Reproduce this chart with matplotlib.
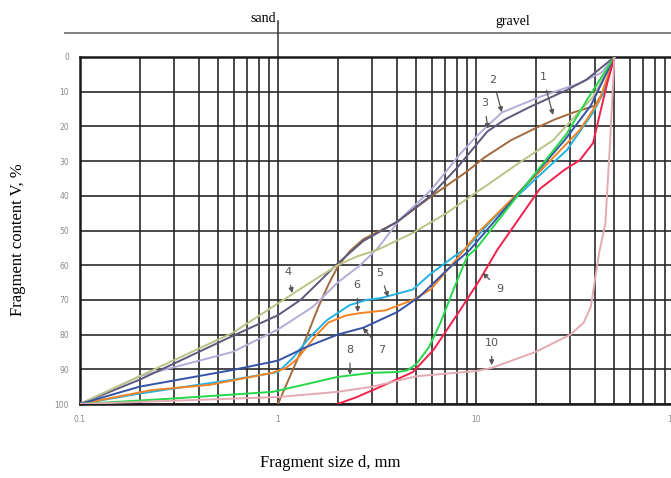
import matplotlib
matplotlib.use("Agg")
import matplotlib.pyplot as plt
from matplotlib.ticker import LogLocator, FixedLocator, NullFormatter

# grain size curves, d in mm, V in %
d1 = [1, 1.3, 1.6, 1.8, 2, 2.3, 2.7, 3.3, 4, 6, 9, 11, 15, 20, 25, 31, 40, 45, 50]
v1 = [100, 85, 72, 65.5, 60.5, 56, 52.5, 50, 47.5, 40, 33, 29, 24, 20.5, 18, 16, 14, 9, 0]

d2 = [0.1, 0.2, 0.59, 1, 1.5, 2, 2.6, 3.2, 4.1, 6, 8.3, 10, 13.5, 21, 33.5, 43, 50]
v2 = [100, 92, 85, 78.5, 72, 65, 60, 55, 47, 38, 28, 23, 16, 11.5, 7.5, 4.5, 0]

d3 = [0.1, 0.2, 0.59, 1, 1.3, 1.6, 2, 2.7, 4, 5.9, 8, 11.4, 14, 18.7, 28.8, 36, 50]
v3 = [100, 93, 80.4, 74.4, 70, 65, 59.5, 53, 47.5, 40, 32, 21.5, 18, 14.4, 9.5, 6.6, 0]

d4 = [0.1, 0.2, 0.59, 1, 1.5, 2, 2.5, 3.2, 4.8, 7.1, 9.3, 11.8, 17, 24.5, 39, 50]
v4 = [100, 92, 79.5, 71, 64.5, 60, 57.5, 55.5, 50.7, 45, 40.3, 36.3, 30, 24, 11.5, 0]

d5 = [0.1, 0.2, 0.59, 1, 1.19, 1.45, 1.77, 2.3, 2.8, 3.3, 4.8, 5.9, 7.7, 9, 12, 17.3, 28.8, 39, 44, 50]
v5 = [100, 97, 93, 90.8, 86.7, 80.7, 75.8, 71.5, 70, 69.5, 67, 62.5, 57.6, 55, 47, 38.5, 26.8, 16, 10.4, 0]

d6 = [0.1, 0.23, 0.45, 0.94, 1.1, 1.25, 1.57, 1.8, 2.2, 2.6, 3.5, 4.8, 5.9, 7.4, 10.5, 21, 33.5, 42, 50]
v6 = [100, 96, 94.5, 91, 89.6, 87, 80, 76.5, 74.5, 73.8, 73, 70, 67, 60.5, 50, 33, 21, 12.4, 0]

d7 = [0.1, 0.2, 0.59, 1, 1.4, 2, 2.7, 4, 5.2, 7.1, 9.3, 16, 28, 38, 50]
v7 = [100, 95, 90.2, 87.5, 83.5, 80, 78, 73.5, 69, 61.5, 55.6, 40, 24, 14, 0]

d8 = [0.1, 0.28, 0.94, 2, 3, 4, 4.5, 5, 5.8, 6.6, 7.7, 9, 10.1, 16.7, 28.8, 36.3, 50]
v8 = [100, 98.5, 96.5, 92.2, 91, 90.8, 90.3, 88.5, 83.5, 76.7, 67, 57.6, 55, 39, 22, 12.4, 0]

d9 = [2, 2.5, 3.3, 4.8, 6.1, 8.3, 10.5, 12.8, 21, 28, 33.5, 39, 42, 46, 50]
v9 = [100, 98, 95, 90.8, 84.4, 73, 64, 55.6, 38, 32.5, 29.7, 24.8, 17, 7.5, 0]

d10 = [0.1, 1, 2, 3, 5, 10, 12, 20, 30, 35, 38, 42, 45, 47.5, 50]
v10 = [100, 98, 96.5, 95, 92, 90.5, 89.6, 85, 80, 76.5, 72, 56, 48, 25, 0]

curves = [(d1, v1, "#a36a3e"), (d2, v2, "#b3acd9"), (d3, v3, "#5c5a7c"),
          (d4, v4, "#bcc386"), (d5, v5, "#22b2e6"), (d6, v6, "#f28424"),
          (d7, v7, "#3654a6"), (d8, v8, "#26d84a"), (d9, v9, "#f2204a"),
          (d10, v10, "#e4aab4")]

# curve labels: text position, arrow tip
labels = ["1", "2", "3", "4", "5", "6", "7", "8", "9", "10"]
label_xy = [(21.8, 5.8), (12.2, 6.6), (11.0, 13.3), (1.12, 62), (3.27, 62.2),
            (2.5, 65.7), (3.35, 84.4), (2.31, 84.4), (13.2, 67), (12.0, 82.4)]
tip_xy = [(24.5, 16.7), (13.5, 15.9), (11.5, 20.7), (1.18, 68), (3.6, 69.2),
          (2.53, 73.5), (2.68, 78), (2.31, 91.6), (10.8, 62.2), (12.0, 88.8)]

xticks = [0.1, 1, 10, 100]
xtick_labels = ["0.1", "1", "10", "100"]
yticks = [0, 10, 20, 30, 40, 50, 60, 70, 80, 90, 100]

fig = plt.figure(figsize=(6.71, 4.78), dpi=100)
ax = fig.add_axes([80 / 671, 74 / 478, 594 / 671, 347 / 478])

for d, v, c in curves:
    ax.plot(d, v, color=c, lw=1.4, zorder=3)

ax.set_xscale("log")
ax.set_xlim(0.1, 100)
ax.set_ylim(100, 0)
ax.xaxis.set_major_locator(FixedLocator(xticks))
ax.set_xticklabels(xtick_labels)
ax.xaxis.set_minor_locator(LogLocator(base=10, subs=range(2, 10)))
ax.xaxis.set_minor_formatter(NullFormatter())
ax.set_yticks(yticks)
ax.set_yticklabels([str(t) for t in yticks])
ax.tick_params(which="both", length=0, labelsize=5.5, labelcolor="#8a8a8a", pad=8)
ax.grid(which="both", axis="x", color="#2a2a2a", lw=1.2, zorder=1)
ax.grid(which="major", axis="y", color="#2a2a2a", lw=1.2, zorder=1)
for s in ax.spines.values():
    s.set_linewidth(1.8)
    s.set_color("#1a1a1a")

for lab, (tx, ty), (px, py) in zip(labels, label_xy, tip_xy):
    ax.annotate(lab, xy=(px, py), xytext=(tx, ty), fontsize=8, color="#555555",
                ha="center", va="center", zorder=4,
                arrowprops=dict(arrowstyle="-|>", color="#555555", lw=0.9,
                                mutation_scale=7, shrinkA=4, shrinkB=0))

# sand / gravel header
ax.plot([0.084, 100], [-6.9, -6.9], color="#777777", lw=1.3, clip_on=False)
ax.plot([1, 1], [-10.5, 0], color="#333333", lw=1.1, clip_on=False)
ax.text(0.84, -11.0, "sand", fontsize=10, ha="center", va="center",
        family="Liberation Serif")
ax.text(15.4, -10.3, "gravel", fontsize=10, ha="center", va="center",
        family="Liberation Serif")

fig.text(18 / 671, 1 - 240 / 478, "Fragment content V, %", rotation=90,
         ha="center", va="center", fontsize=12, family="Liberation Serif")
fig.text(330 / 671, 1 - 463 / 478, "Fragment size d, mm", ha="center",
         va="center", fontsize=12, family="Liberation Serif")

fig.savefig("out.png", dpi=100)
